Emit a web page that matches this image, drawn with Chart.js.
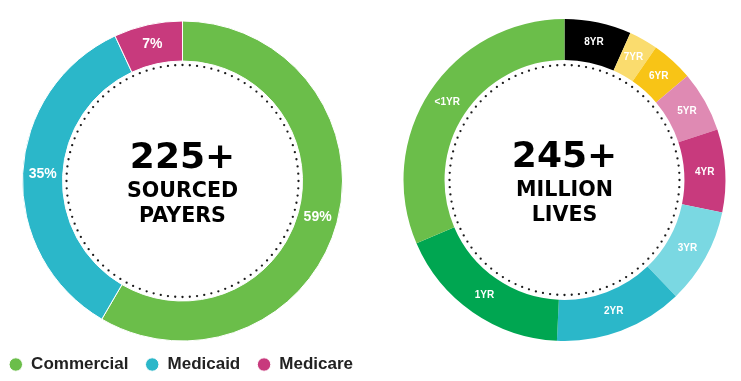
<!DOCTYPE html>
<html><head><meta charset="utf-8">
<script src="https://cdn.jsdelivr.net/npm/chart.js@4"></script>
<style>
html,body{margin:0;padding:0;background:#fff;width:741px;height:381px;overflow:hidden;position:relative}
#lw{position:absolute;left:-8px;top:2px;width:381px;height:381px}
#rw{position:absolute;left:384px;top:0;width:361px;height:381px}
</style></head><body>
<div id="lw"><canvas id="left"></canvas></div>
<div id="rw"><canvas id="right"></canvas></div>
<script>
// ---- data ----
const payerCategories = ['Commercial', 'Medicaid', 'Medicare'];
const payerShares = [59, 35, 7];
const payerLabels = ['59%', '35%', '7%'];
const payerColors = ['#6BBE4A', '#2BB7C9', '#C83A7D'];

const livesCategories = ['8YR', '7YR', '6YR', '5YR', '4YR', '3YR', '2YR', '1YR', '<1YR'];
const livesShares = [6.7, 2.9, 4.2, 6.1, 8.3, 9.6, 12.9, 17.8, 31.4];
const livesColors = ['#000000', '#FADC6E', '#F8C416', '#DF8AB3', '#C83A7D', '#7AD8E2', '#2BB7C9', '#00A651', '#6BBE4A'];

const leftCenterText = ['225+', 'SOURCED', 'PAYERS'];
const rightCenterText = ['245+', 'MILLION', 'LIVES'];

// ---- decoration plugin: dotted ring, slice labels, centre text ----
const donutDecor = {
  id: 'donutDecor',
  afterDatasetsDraw(chart, args, opts) {
    const arcs = chart.getDatasetMeta(0).data;
    if (!arcs.length) return;
    const cx = arcs[0].x, cy = arcs[0].y;
    const ctx = chart.ctx;
    ctx.save();
    ctx.fillStyle = '#1a1a1a';
    const n = opts.dots;
    for (let i = 0; i < n; i++) {
      const a = i / n * 2 * Math.PI;
      ctx.beginPath();
      ctx.arc(cx + opts.dotRadius * Math.cos(a), cy + opts.dotRadius * Math.sin(a), 1.15, 0, 2 * Math.PI);
      ctx.fill();
    }
    ctx.fillStyle = '#ffffff';
    ctx.font = 'bold ' + opts.labelSize + 'px "Liberation Sans", Arial, sans-serif';
    ctx.textAlign = 'center';
    ctx.textBaseline = 'middle';
    arcs.forEach((arc, i) => {
      const p = arc.tooltipPosition();
      ctx.fillText(opts.labels[i], p.x, p.y);
    });
    ctx.fillStyle = '#000000';
    ctx.textBaseline = 'alphabetic';
    const sizes = [36, 20.6, 20.6];
    const offs = [-13.5, 16, 41];
    opts.center.forEach((t, i) => {
      ctx.font = 'bold ' + sizes[i] + 'px "DejaVu Sans", sans-serif';
      ctx.fillText(t, cx, cy + offs[i]);
    });
    ctx.restore();
  }
};

new Chart(document.getElementById('left'), {
  type: 'doughnut',
  data: {
    labels: payerCategories,
    datasets: [{
      data: payerShares,
      backgroundColor: payerColors,
      borderColor: '#ffffff',
      borderWidth: 1,
      hoverOffset: 0,
      clip: false
    }]
  },
  options: {
    responsive: true,
    maintainAspectRatio: false,
    animation: false,
    events: [],
    radius: 160,
    cutout: '75%',
    layout: { padding: { top: 21, right: 0, left: 0, bottom: 0 } },
    plugins: {
      tooltip: { enabled: false },
      legend: {
        display: true,
        position: 'bottom',
        align: 'start',
        labels: {
          usePointStyle: true,
          pointStyle: 'circle',
          boxWidth: 13.6,
          boxHeight: 9.5,
          padding: 17,
          color: '#222222',
          font: { family: '"Liberation Sans", Arial, sans-serif', size: 17, weight: 'bold' }
        }
      },
      donutDecor: { dots: 100, dotRadius: 116, labelSize: 14, labels: payerLabels, center: leftCenterText }
    }
  },
  plugins: [donutDecor]
});

new Chart(document.getElementById('right'), {
  type: 'doughnut',
  data: {
    labels: livesCategories,
    datasets: [{
      data: livesShares,
      backgroundColor: livesColors,
      borderWidth: 0,
      hoverOffset: 0,
      clip: false
    }]
  },
  options: {
    responsive: true,
    maintainAspectRatio: false,
    animation: false,
    events: [],
    radius: 161,
    cutout: '74.5%',
    layout: { padding: { top: 0, right: 0, left: 0, bottom: 21 } },
    plugins: {
      tooltip: { enabled: false },
      legend: { display: false },
      donutDecor: { dots: 100, dotRadius: 115, labelSize: 10, labels: livesCategories, center: rightCenterText }
    }
  },
  plugins: [donutDecor]
});
</script>
</body></html>
